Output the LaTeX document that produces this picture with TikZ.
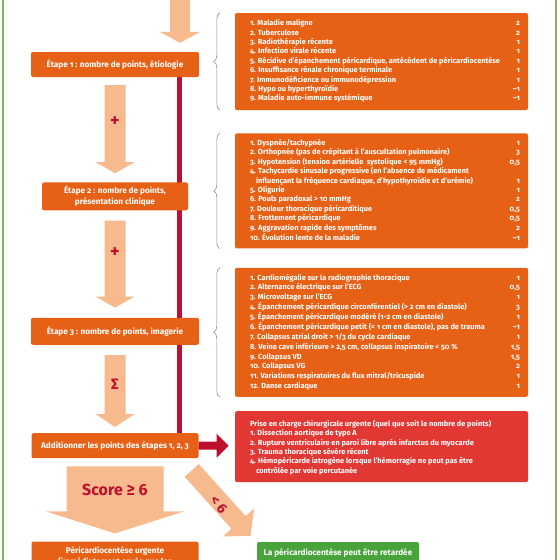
\documentclass[tikz,border=0pt]{standalone}
\usepackage{fontspec}
\setmainfont{Fira Sans}[Numbers=OldStyle]
\usepackage{xcolor}
\usepackage{tikz}
\usetikzlibrary{positioning,calc,backgrounds,decorations.pathreplacing}

\definecolor{boxorange}{RGB}{230,97,22}
\definecolor{peach}{RGB}{246,186,142}
\definecolor{darkred}{RGB}{190,16,46}
\definecolor{surgred}{RGB}{226,56,52}
\definecolor{okgreen}{RGB}{72,164,58}
\definecolor{framegreen}{RGB}{140,176,90}

\newcommand\listfont{\fontsize{7.4}{9.4}\selectfont\bfseries}
\newcommand\stepfont{\fontsize{8.2}{11}\selectfont\bfseries}

\tikzset{
  pics/fatarrow/.style n args={5}{code={%
    % length, shaft width, head width, head length, colour
    \fill[#5] (0,-#2/2) -- (#1-#4,-#2/2) -- (#1-#4,-#3/2) -- (#1,0)
      -- (#1-#4,#3/2) -- (#1-#4,#2/2) -- (0,#2/2) -- cycle;
  }}
}

\begin{document}
\begin{tikzpicture}[
    x=1pt, y=-1pt,
    stepbox/.style={fill=boxorange, rounded corners=2pt, text=white, font=\stepfont, align=center, inner sep=0pt},
    listbox/.style={fill=boxorange, rounded corners=2pt, text=white, font=\listfont, minimum width=293pt, inner sep=0pt},
    surgbox/.style={listbox, fill=surgred},
    okbox/.style={fill=okgreen, rounded corners=2pt, text=white, font=\stepfont, minimum width=162pt, minimum height=22pt, inner sep=0pt},
    sign/.style={text=darkred, font=\fontsize{18}{18}\selectfont\bfseries, inner sep=0pt},
    brace/.style={draw=black!45, line width=0.6pt, decorate, decoration={brace, amplitude=6pt}},
    redline/.style={draw=darkred, line width=5pt},
    frameline/.style={draw=framegreen, line width=1.5pt}
]
\useasboundingbox (0,0) rectangle (560,560);
\clip (0,0) rectangle (560,560);

% frame
\draw[frameline] (3,0) -- (3,560);
\draw[frameline] (556,0) -- (556,560);

% left column
\node[stepbox, minimum width=168pt, minimum height=25pt] (e1) at (115,64.5) {Étape 1 : nombre de points, étiologie};
\node[stepbox, minimum width=146pt, minimum height=28pt, below=105pt of e1] (e2) {Étape 2 : nombre de points,\\présentation clinique};
\node[stepbox, minimum width=168pt, minimum height=27pt, below=107pt of e2] (e3) {Étape 3 : nombre de points, imagerie};
\node[stepbox, minimum width=167pt, minimum height=25pt, below=88pt of e3] (sum) {Additionner les points des étapes 1, 2, 3};
\node[stepbox, minimum width=167pt, minimum height=30pt, below=83pt of sum] (peri) {Péricardiocentèse urgente\\(immédiatement après que les};

% right column
\node[listbox, minimum height=97pt] (b1) at (381.5,61.5) {%
\begin{tabular*}{293pt}{@{\hspace{15pt}}l@{\extracolsep{\fill}}r@{\extracolsep{0pt}\hspace{8pt}}}
1. Maladie maligne & 2\\
2. Tuberculose & 2\\
3. Radiothérapie récente & 1\\
4. Infection virale récente & 1\\
5. Récidive d'épanchement péricardique, antécédent de péricardiocentèse & 1\\
6. Insuffisance rénale chronique terminale & 1\\
7. Immunodéficience ou immunodépression & 1\\
8. Hypo ou hyperthyroïdie & –1\\
9. Maladie auto-immune systémique & –1
\end{tabular*}};
\node[listbox, minimum height=115pt, below=23pt of b1] (b2) {%
\begin{tabular*}{293pt}{@{\hspace{15pt}}l@{\extracolsep{\fill}}r@{\extracolsep{0pt}\hspace{8pt}}}
1. Dyspnée/tachypnée & 1\\
2. Orthopnée (pas de crépitant à l'auscultation pulmonaire) & 3\\
3. Hypotension (tension artérielle\ \ systolique < 95 mmHg) & 0,5\\
4. Tachycardie sinusale progressive (en l'absence de médicament & \\
\hspace{6pt}influençant la fréquence cardiaque, d'hypothyroïdie et d'urémie) & 1\\
5. Oligurie & 1\\
6. Pouls paradoxal > 10 mmHg & 2\\
7. Douleur thoracique péricarditique & 0,5\\
8. Frottement péricardique & 0,5\\
9. Aggravation rapide des symptômes & 2\\
10. Évolution lente de la maladie & –1
\end{tabular*}};
\node[listbox, minimum height=129pt, below=19pt of b2] (b3) {%
\renewcommand\arraystretch{1.04}%
\begin{tabular*}{293pt}{@{\hspace{15pt}}l@{\extracolsep{\fill}}r@{\extracolsep{0pt}\hspace{8pt}}}
1. Cardiomégalie sur la radiographie thoracique & 1\\
2. Alternance électrique sur l'ECG & 0,5\\
3. Microvoltage sur l'ECG & 1\\
4. Épanchement péricardique circonférentiel (> 2 cm en diastole) & 3\\
5. Épanchement péricardique modéré (1-2 cm en diastole) & 1\\
6. Épanchement péricardique petit (< 1 cm en diastole), pas de trauma & –1\\
7. Collapsus atrial droit > 1/3 du cycle cardiaque & 1\\
8. Veine cave inférieure > 2,5 cm, collapsus inspiratoire < 50 \% & 1,5\\
9. Collapsus VD & 1,5\\
10. Collapsus VG & 2\\
11. Variations respiratoires du flux mitral/tricuspide & 1\\
12. Danse cardiaque & 1
\end{tabular*}};
\node[surgbox, minimum height=71pt, below=14pt of b3] (surg) {%
\begin{tabular*}{293pt}{@{\hspace{15pt}}l@{\extracolsep{\fill}}r@{\extracolsep{0pt}\hspace{8pt}}}
\rule{0pt}{9pt}Prise en charge chirurgicale urgente (quel que soit le nombre de points) & \\
1. Dissection aortique de type A & \\
2. Rupture ventriculaire en paroi libre après infarctus du myocarde & \\
3. Trauma thoracique sévère récent & \\
4. Hémopéricarde iatrogène lorsque l'hémorragie ne peut pas être & \\
\hspace{6pt}contrôlée par voie percutanée &
\end{tabular*}};
\node[okbox] (late) at (338,553) {La péricardiocentèse peut être retardée};

% braces
\foreach \b in {b1,b2,b3}
  \draw[brace] ($(\b.south west)+(-15,0)$) -- ($(\b.north west)+(-15,0)$);

% red line behind the steps
\coordinate (rtop) at ($(e1.south east)+(-19.5,0)$);
\begin{scope}[on background layer]
  \draw[redline] (rtop) -- (rtop |- sum.north);
\end{scope}

% fat arrows
\pic[rotate=-90] at ($(e1.north)+(65,-54)$) {fatarrow={45}{20}{41}{11}{peach}};
\pic[rotate=-90] at ($(e1.south)+(0,8)$) {fatarrow={88}{21}{39}{11}{peach}};
\pic[rotate=-90] at ($(e2.south)+(0,10)$) {fatarrow={87}{21}{39}{11}{peach}};
\pic[rotate=-90] at ($(e3.south)+(0,10)$) {fatarrow={72}{21}{39}{13}{peach}};
\pic[rotate=-90] at ($(sum.south)+(0,8)$) {fatarrow={67}{97}{138}{22}{peach}};
\pic[rotate=-48] at ($(sum.south east)+(-7,12)$) {fatarrow={88}{19}{42}{18}{peach}};
\pic at (sum.east) {fatarrow={30}{8}{24}{12}{darkred}};

% arrow labels
\node[sign] (plus1) at ($(e1.south)+(0,44)$) {+};
\node[sign] (plus2) at ($(e2.south)+(0,42)$) {+};
\node[sign, font=\fontsize{15}{15}\selectfont\bfseries] (sigma) at ($(e3.south)+(0,39)$) {Σ};
\node[sign, font=\fontsize{16}{16}\selectfont\bfseries] (score) at ($(sum.south)+(0,32)$) {Score ≥ 6};
\node[sign, font=\fontsize{14}{14}\selectfont\bfseries, rotate=-52] (low) at ($(sum.south east)+(20,46)$) {< 6};

\end{tikzpicture}
\end{document}
